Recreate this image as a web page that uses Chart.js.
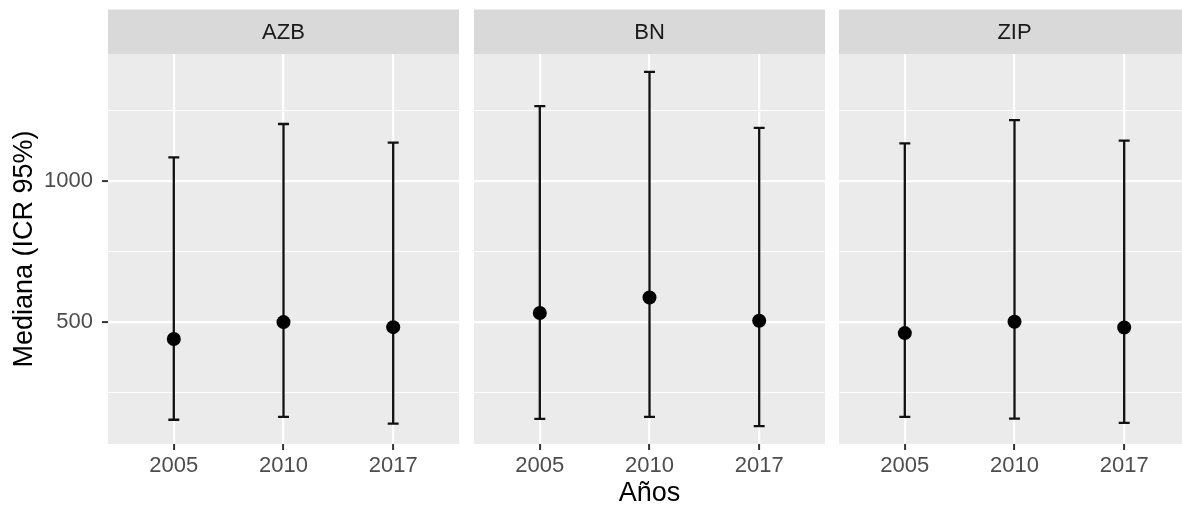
<!DOCTYPE html>
<html><head><meta charset="utf-8">
<script src="https://cdn.jsdelivr.net/npm/chart.js@4"></script>
<style>
html,body{margin:0;padding:0;background:#fff;overflow:hidden;width:1182px;height:510px;position:relative;}
canvas.p{position:absolute;top:0;}
</style></head><body>
<canvas id="c0" class="p" style="left:0px" width="459" height="510"></canvas>
<canvas id="c1" class="p" style="left:474px" width="351" height="510"></canvas>
<canvas id="c2" class="p" style="left:839px" width="351" height="510"></canvas>
<script>
// ---- data ----
const facets = ['AZB', 'BN', 'ZIP'];
const years = ['2005', '2010', '2017'];
const medianAZB = [440, 500, 482];
const lowerAZB  = [154, 164, 140];
const upperAZB  = [1084, 1202, 1136];
const medianBN  = [532, 587, 505];
const lowerBN   = [157, 164, 131];
const upperBN   = [1265, 1387, 1188];
const medianZIP = [461, 501, 481];
const lowerZIP  = [164, 158, 143];
const upperZIP  = [1133, 1216, 1143];
const yMajorTicks = [500, 1000];
const yMinorTicks = [250, 750, 1250];
const xTitle = 'Años';
const yTitle = 'Mediana (ICR 95%)';

const FONT = "'Liberation Sans', Arial, Helvetica, sans-serif";
const series = [
  {median: medianAZB, lower: lowerAZB, upper: upperAZB},
  {median: medianBN,  lower: lowerBN,  upper: upperBN},
  {median: medianZIP, lower: lowerZIP, upper: upperZIP}
];

const panelPlugin = {
  id: 'panel',
  beforeDraw(chart) {
    const {ctx, chartArea: a} = chart;
    ctx.save();
    ctx.fillStyle = '#EBEBEB';
    ctx.fillRect(a.left, a.top, a.right - a.left, a.bottom - a.top);
    // strip
    ctx.fillStyle = '#D9D9D9';
    ctx.fillRect(a.left, 9.5, a.right - a.left, a.top - 9.5);
    ctx.fillStyle = '#1A1A1A';
    ctx.font = '22px ' + FONT;
    ctx.textAlign = 'center';
    ctx.textBaseline = 'middle';
    ctx.fillText(chart.options.plugins.panel.label, (a.left + a.right) / 2, (9.5 + a.top) / 2 + 1);
    ctx.restore();
  },
  beforeDatasetsDraw(chart) {
    const ds = chart.data.datasets[0];
    const xs = chart.scales.x, ys = chart.scales.y;
    const {ctx} = chart;
    ctx.save();
    ctx.strokeStyle = '#111';
    ctx.lineWidth = 2.3;
    ctx.lineCap = 'butt';
    ds.lower.forEach((lo, i) => {
      const x = xs.getPixelForValue(i);
      const xl = xs.getPixelForValue(i - 0.05), xr = xs.getPixelForValue(i + 0.05);
      const yl = ys.getPixelForValue(lo), yu = ys.getPixelForValue(ds.upper[i]);
      ctx.beginPath();
      ctx.moveTo(x, yl); ctx.lineTo(x, yu);
      ctx.moveTo(xl, yl); ctx.lineTo(xr, yl);
      ctx.moveTo(xl, yu); ctx.lineTo(xr, yu);
      ctx.stroke();
    });
    ctx.restore();
  }
};

function makePanel(idx) {
  const s = series[idx];
  const showY = idx === 0;
  const showXTitle = idx === 1;
  const isMajor = v => yMajorTicks.includes(v);
  return new Chart(document.getElementById('c' + idx), {
    type: 'scatter',
    data: {
      datasets: [{
        data: s.median.map((m, i) => ({x: i, y: m})),
        lower: s.lower,
        upper: s.upper,
        backgroundColor: '#000',
        borderWidth: 0,
        pointRadius: 7,
        pointHoverRadius: 7
      }]
    },
    options: {
      responsive: false,
      devicePixelRatio: 1,
      animation: false,
      events: [],
      layout: {autoPadding: false, padding: {top: 54, left: 0, right: 0, bottom: 0}},
      plugins: {
        legend: {display: false},
        tooltip: {enabled: false},
        panel: {label: facets[idx]}
      },
      scales: {
        x: {
          type: 'linear',
          min: -0.6, max: 2.6,
          afterBuildTicks: sc => { sc.ticks = years.map((y, i) => ({value: i})); },
          afterFit: sc => { sc.height = 66; },
          ticks: {
            autoSkip: false, maxRotation: 0, padding: 3,
            color: '#4D4D4D', font: {size: 22, family: FONT},
            callback: v => years[v]
          },
          grid: {color: '#FFFFFF', lineWidth: 2.2, tickColor: '#333333', tickLength: 6, tickWidth: 2},
          border: {display: false},
          title: {display: showXTitle, text: xTitle, color: '#000', font: {size: 27, family: FONT, lineHeight: 1}, padding: {top: 0, bottom: 3}}
        },
        y: {
          type: 'linear',
          min: 68, max: 1450,
          afterBuildTicks: sc => { sc.ticks = yMajorTicks.concat(yMinorTicks).sort((a, b) => a - b).map(v => ({value: v})); },
          afterFit: sc => { sc.width = showY ? 108 : 0; },
          ticks: {
            display: showY, padding: 9,
            color: '#4D4D4D', font: {size: 22, family: FONT},
            callback: v => isMajor(v) ? String(v) : ''
          },
          grid: {
            color: '#FFFFFF',
            lineWidth: c => isMajor(c.tick.value) ? 2.2 : 1.1,
            tickColor: c => (showY && isMajor(c.tick.value)) ? '#333333' : 'rgba(0,0,0,0)',
            tickLength: 6, tickWidth: 2
          },
          border: {display: false},
          title: {display: showY, text: yTitle, color: '#000', font: {size: 27, family: FONT, lineHeight: 1}, padding: {top: 11, bottom: 0}}
        }
      }
    },
    plugins: [panelPlugin]
  });
}
[0, 1, 2].forEach(makePanel);
</script>
</body></html>
